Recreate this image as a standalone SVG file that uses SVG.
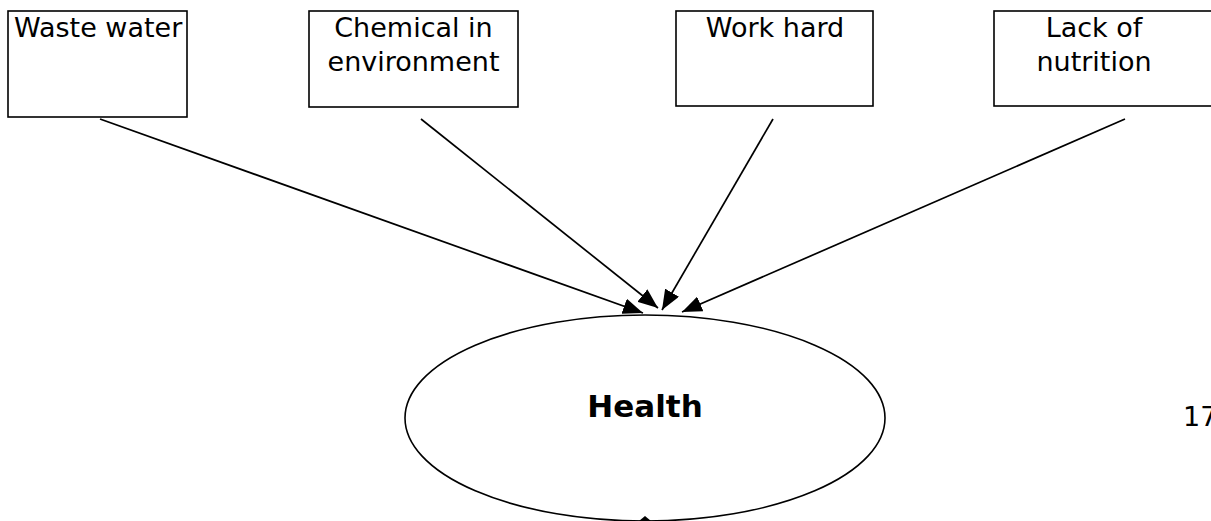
<svg xmlns="http://www.w3.org/2000/svg" width="1211" height="521" viewBox="0 0 1211 521">
<style>
.box{fill:#fff;stroke:#000;stroke-width:1.6}
.lbl{font-family:"DejaVu Sans",Verdana,sans-serif;font-size:27px;fill:#000}
.c{text-anchor:middle}
.conn{stroke:#000;stroke-width:1.7;fill:none}
</style>
<defs>
<marker id="ah" markerUnits="userSpaceOnUse" markerWidth="22" markerHeight="16" refX="20" refY="8" orient="auto">
<path d="M0,0 L20,8 L0,16 Z" fill="#000"/>
</marker>
</defs>
<rect width="1211" height="521" fill="#fff"/>
<g id="n1"><rect class="box" x="8" y="11" width="179" height="106"/><text class="lbl" x="14" y="37">Waste water</text></g>
<g id="n2"><rect class="box" x="309" y="11" width="209" height="96"/><text class="lbl c" x="413.5" y="37">Chemical in</text><text class="lbl c" x="413.5" y="71">environment</text></g>
<g id="n3"><rect class="box" x="676" y="11" width="197" height="95"/><text class="lbl c" x="775" y="37">Work hard</text></g>
<g id="n4"><rect class="box" x="994" y="11" width="240" height="95"/><text class="lbl c" x="1094" y="37">Lack of</text><text class="lbl c" x="1094" y="71">nutrition</text></g>
<g id="health"><ellipse class="box" cx="645" cy="418" rx="240" ry="103"/><text class="lbl c" x="645" y="417" style="font-weight:bold;font-size:31px">Health</text><path d="M639,521 L645,516 L651,521 Z" fill="#000"/></g>
<g id="connectors">
<line class="conn" x1="100" y1="119" x2="643" y2="313" marker-end="url(#ah)"/>
<line class="conn" x1="421" y1="119" x2="658" y2="308" marker-end="url(#ah)"/>
<line class="conn" x1="773" y1="119" x2="662" y2="310" marker-end="url(#ah)"/>
<line class="conn" x1="1125" y1="119" x2="682" y2="312" marker-end="url(#ah)"/>
</g>
<text class="lbl" x="1183" y="426">17</text>
</svg>
